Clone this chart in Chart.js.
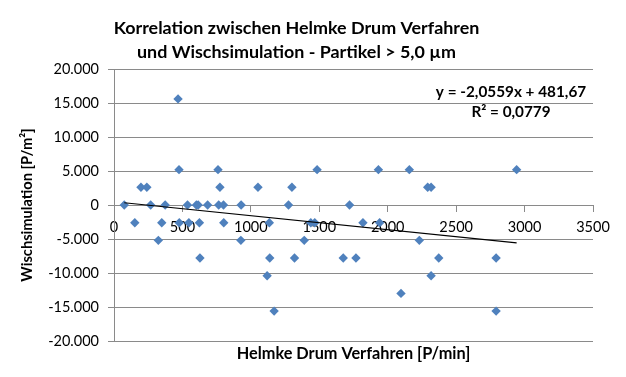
<!DOCTYPE html>
<html><head><meta charset="utf-8">
<script src="https://cdn.jsdelivr.net/npm/chart.js@4/dist/chart.umd.min.js"></script>
<style>html,body{margin:0;padding:0;background:#fff}#wrap{width:626px;height:377px}</style>
</head><body><div id="wrap"><canvas id="c" width="626" height="377"></canvas></div>
<script>
// Helmke Drum Verfahren [P/min] (x) and Wischsimulation [P/m²] (y)
const helmkeDrum = [
  468,
  475, 760, 1484, 1932, 2158, 2942,
  197, 240, 774, 1052, 1300, 2292, 2317,
  75, 268, 374, 537, 602, 615, 684, 765, 800, 929, 1275, 1721,
  152, 349, 477, 547, 624, 802, 1135, 1438, 1467, 1819, 1941,
  324, 927, 1390, 2231,
  628, 1138, 1319, 1675, 1768, 2373, 2792,
  1119, 2317,
  2097,
  1170, 2792
];
const wischsimulation = [
  15600,
  5200, 5200, 5200, 5200, 5200, 5200,
  2600, 2600, 2600, 2600, 2600, 2600, 2600,
  0, 0, 0, 0, 0, 0, 0, 0, 0, 0, 0, 0,
  -2600, -2600, -2600, -2600, -2600, -2600, -2600, -2600, -2600, -2600, -2600,
  -5200, -5200, -5200, -5200,
  -7800, -7800, -7800, -7800, -7800, -7800, -7800,
  -10400, -10400,
  -13000,
  -15600, -15600
];
const xTicks = [0, 500, 1000, 1500, 2000, 2500, 3000, 3500];
const xTickLabels = ['0', '500', '1000', '1500', '2000', '2500', '3000', '3500'];
const yTicks = [-20000, -15000, -10000, -5000, 0, 5000, 10000, 15000, 20000];
const yTickLabels = ['-20.000', '-15.000', '-10.000', '-5.000', '0', '5.000', '10.000', '15.000', '20.000'];
const trendSlope = -2.0559;
const trendIntercept = 481.67;
const trendLabel = 'y = -2,0559x + 481,67';
const r2Label = 'R² = 0,0779';
const titleLines = ['Korrelation zwischen Helmke Drum Verfahren', 'und Wischsimulation - Partikel > 5,0 µm'];
const xTitle = 'Helmke Drum Verfahren [P/min]';
const yTitle = 'Wischsimulation [P/m²]';

const FONT = 'Lato';
const gridColor = '#8a8a8a';
const points = helmkeDrum.map((x, i) => ({x: x, y: wischsimulation[i]}));
const minX = Math.min(...helmkeDrum), maxX = Math.max(...helmkeDrum);
const trendPoints = [minX, maxX].map(x => ({x: x, y: trendSlope * x + trendIntercept}));

const eqPlugin = {
  id: 'eq',
  afterDraw(chart) {
    const {ctx, chartArea} = chart;
    ctx.save();
    ctx.font = 'bold 15.3px ' + FONT;
    ctx.fillStyle = '#000';
    ctx.textAlign = 'center';
    ctx.textBaseline = 'middle';
    const cx = chartArea.right - 82;
    ctx.fillText(trendLabel, cx, chartArea.top + 23);
    ctx.fillText(r2Label, cx, chartArea.top + 43);
    ctx.restore();
  }
};

new Chart(document.getElementById('c'), {
  type: 'scatter',
  data: {
    datasets: [
      {
        type: 'line', data: trendPoints, borderColor: '#000', borderWidth: 1.2,
        pointRadius: 0, fill: false, order: 0
      },
      {
        data: points, pointStyle: 'rectRot', pointRadius: 4.7, pointHoverRadius: 4.7,
        backgroundColor: '#4F81BD', borderWidth: 0, order: 1
      }
    ]
  },
  options: {
    responsive: false, animation: false, devicePixelRatio: 1,
    layout: {padding: {left: 0, right: 33, top: 0, bottom: 0}},
    plugins: {
      legend: {display: false},
      tooltip: {enabled: false},
      title: {
        display: true, text: titleLines, color: '#000',
        font: {family: FONT, size: 17.9, weight: 'bold', lineHeight: '24px'},
        padding: {top: 16.4, bottom: 4.6}
      }
    },
    scales: {
      x: {
        type: 'linear', position: {y: 0}, min: 0, max: 3500,
        afterBuildTicks: s => { s.ticks = xTicks.map(v => ({value: v})); },
        ticks: {
          color: '#000', font: {family: FONT, size: 14.5}, padding: 7.6,
          maxRotation: 0, autoSkip: false,
          callback: (v) => xTickLabels[xTicks.indexOf(v)]
        },
        grid: {display: true, drawOnChartArea: false, drawTicks: true, tickLength: 6, color: gridColor},
        border: {display: true, color: gridColor, width: 1}
      },
      x2: {
        type: 'linear', position: 'bottom', min: 0, max: 1,
        ticks: {display: false},
        grid: {display: false},
        border: {display: false},
        title: {
          display: true, text: xTitle, color: '#000',
          font: {family: FONT, size: 16.3, weight: 'bold'},
          padding: {top: 0, bottom: 13}
        },
        afterFit: s => { s.height = 36; }
      },
      y: {
        type: 'linear', position: 'left', min: -20000, max: 20000,
        afterBuildTicks: s => { s.ticks = yTicks.map(v => ({value: v})); },
        ticks: {
          color: '#000', font: {family: FONT, size: 14.5}, padding: 9,
          callback: (v) => yTickLabels[yTicks.indexOf(v)]
        },
        grid: {display: true, drawTicks: true, tickLength: 6, color: gridColor},
        border: {display: true, color: gridColor, width: 1},
        title: {
          display: true, text: yTitle, color: '#000',
          font: {family: FONT, size: 14.67, weight: 'bold'},
          padding: {top: 18, bottom: 0}
        },
        afterFit: s => { s.width = 114; }
      }
    }
  },
  plugins: [eqPlugin]
});
</script>
</body></html>
